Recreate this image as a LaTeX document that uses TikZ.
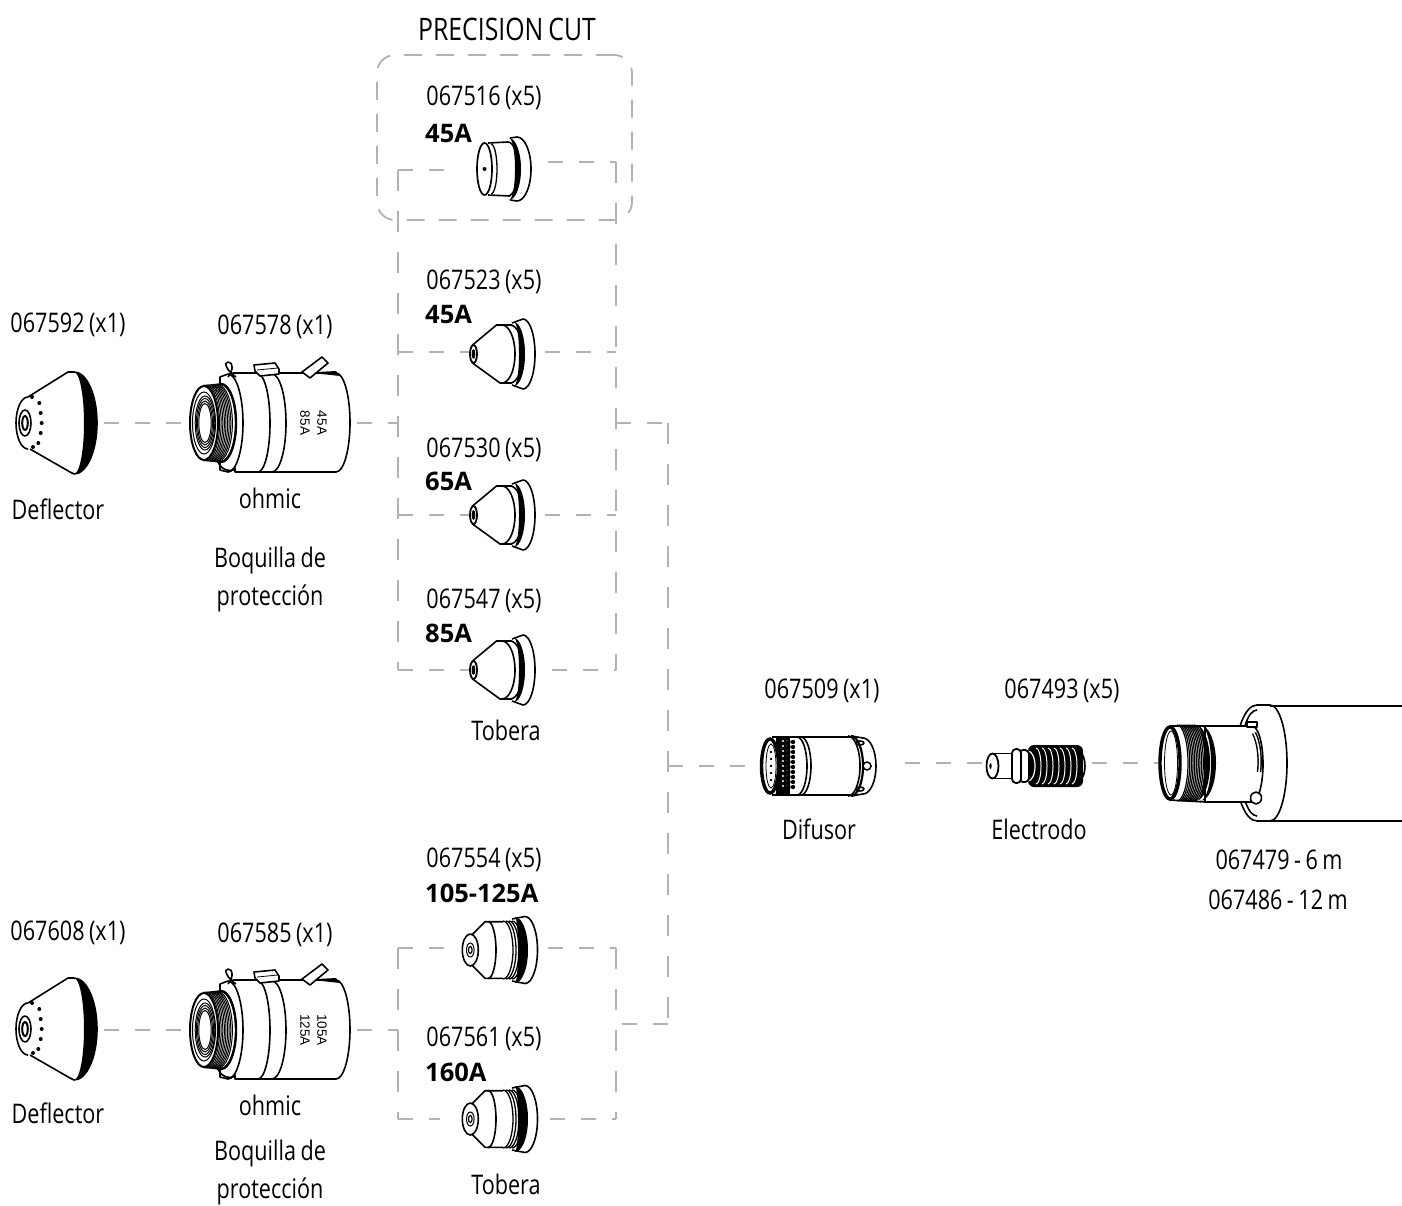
\documentclass[tikz,border=0pt]{standalone}
\usepackage{fontspec}
\setmainfont{Open Sans}
\newfontfamily\labelfont[FakeStretch=0.8,WordSpace=0.8]{Open Sans}
\newfontfamily\ampfont{Open Sans}
\newfontfamily\platefont{Liberation Sans}
\newcommand\bulge[3]{(#1,-#3) arc[start angle=-90,end angle=90,x radius=#2,y radius=#3]}
\newcommand\crescent[4]{\fill (#1,-#4) arc[start angle=-90,end angle=90,x radius=#3,y radius=#4]
  arc[start angle=90,end angle=-90,x radius=#2,y radius=#4];}

\tikzset{
  link/.style={draw=gray!60, line width=1.8pt, dash pattern=on 15pt off 16pt},
  trunk/.style={draw=gray!60, line width=1.8pt, dash pattern=on 21pt off 20pt},
  partline/.style={line width=1.6pt, line join=round},
  thinline/.style={line width=0.8pt},
  partlabel/.style={font=\labelfont\fontsize{27}{27}\selectfont, inner sep=0pt},
  amplabel/.style={font=\ampfont\bfseries\fontsize{25.5}{25.5}\selectfont, inner sep=0pt, anchor=west},
  platelabel/.style={font=\platefont\fontsize{13.5}{13.5}\selectfont, inner sep=0pt, rotate=-90},
  pics/deflector/.style={code={
    \draw[partline] (10,-26) arc[start angle=-90,end angle=-270,x radius=12,y radius=26];
    \draw[partline] (10,-26) -- (50,-51) -- (56,-51);
    \draw[partline] (12,26) -- (52,49) -- (56,51);
    \draw[partline] \bulge{56}{23}{51};
    \crescent{56}{10}{23}{51}
    \draw[partline] (7,0) ellipse [x radius=6, y radius=13];
    \draw[line width=2pt] (7,0) ellipse [x radius=2.8, y radius=7];
    \foreach \dx/\dy in {21.3/-20,22.7/-10,23.7/0,22.7/10,20.3/20,15/24,14/-26}
      \fill (\dx,\dy) circle [radius=2];
  }},
  pics/shield/.style 2 args={code={
    % body and bands
    \draw[partline,fill=white] (43,-50) -- (146,-50) arc[start angle=-90,end angle=90,x radius=14,y radius=49.5] -- (45,49) -- cycle;
    \draw[partline] \bulge{68}{12}{49};
    \draw[partline] \bulge{82}{14}{49};
    \fill (118,-50.5) -- (146,-52) -- (150,-47) -- cycle;
    % clip and arm
    \draw[partline,fill=white] (64,-58) -- (85,-60) -- (89,-54) -- (89,-49) -- (70,-47) -- (65,-52) -- cycle;
    \draw[thinline] (67,-53) -- (88,-55);
    \draw[partline,fill=white] (112,-51) -- (132,-66) -- (138,-60) -- (120,-45) -- cycle;
    % flange
    \draw[partline,fill=white] (30,-46) -- (38,-49) arc[start angle=-90,end angle=90,x radius=15,y radius=49] -- (30,47) -- cycle;
    \draw[partline] (46,-46) .. controls (37,-52) and (33,-61) .. (38,-61) .. controls (44,-61) and (43,-52) .. (38,-46);
    \draw[partline] (27,37) .. controls (30,45) and (37,50) .. (46,46);
    % thread
    \draw[partline,fill=white] (14,-37) -- (30,-39) arc[start angle=-90,end angle=90,x radius=16,y radius=39] -- (14,37) -- cycle;
    \foreach \tx in {14,15.6,...,30}
      \draw[line width=1pt] \bulge{\tx}{14}{38};
    \draw[line width=2.4pt] \bulge{31}{15}{39};
    % mouth
    \draw[line width=2pt,fill=white] (14,0) ellipse [x radius=14, y radius=37];
    \draw[line width=1pt] (14,0) ellipse [x radius=11.5, y radius=31];
    \foreach \rx/\ry in {9.8/27,8.6/24.5,7.4/22,6.2/19.5}
      \draw[line width=1pt] (15,0) ellipse [x radius=\rx, y radius=\ry];
    \node[platelabel] (plateA) at (132,0) {#1};
    \node[platelabel] (plateB) at (115,0) {#2};
  }},
  pics/conenozzle/.style={code={
    \draw[line width=1.8pt] (3.5,0) ellipse [x radius=3.5, y radius=9];
    \fill (3.5,0) ellipse [x radius=1.8, y radius=5];
    \draw[partline] (2.5,-9) -- (26.5,-29) -- (42,-29);
    \draw[partline] (2.5,9) -- (30,29) -- (42,29);
    \draw[partline] \bulge{32}{13}{29};
    \draw[partline] \bulge{40}{13}{29};
    \draw[partline] (42,-31) -- (53,-35);
    \draw[partline] (42,31) -- (53,35);
    \draw[partline] \bulge{53}{12}{35};
    \crescent{44}{5}{11}{32}
  }},
  pics/widenozzle/.style={code={
    \draw[partline] (8.3,0) ellipse [x radius=8, y radius=16];
    \draw[line width=1pt] (8.3,0) ellipse [x radius=3.8, y radius=7];
    \draw[line width=1.2pt] (8.3,0) ellipse [x radius=1.8, y radius=3.5];
    \draw[partline] (9.7,-15) -- (23,-28.3) -- (41,-28.3);
    \draw[partline] (9.7,15) -- (23,28.3) -- (41,28.3);
    \draw[partline] \bulge{26}{8}{28.5};
    \foreach \tx in {41,44,47,50}
      \draw[line width=1.3pt] \bulge{\tx}{10}{29};
    \draw[partline] (50,-31) -- (63,-33.5);
    \draw[partline] (50,31) -- (63,33.5);
    \draw[partline] \bulge{63}{12.5}{33.5};
    \crescent{53}{3}{13}{33}
  }},
}

\begin{document}
\begin{tikzpicture}[x=1pt, y=-1pt]
  \useasboundingbox (0,0) rectangle (1402,1206);
  % junctions of the dashed lines
  \coordinate (defoneout) at (104,423);
  \coordinate (shieldonein) at (187,423);
  \coordinate (shieldoneout) at (357,423);
  \coordinate (buslone) at (398,423);
  \coordinate (defmoreout) at (104,1030);
  \coordinate (shieldmorein) at (187,1030);
  \coordinate (shieldmoreout) at (357,1030);
  \coordinate (buslmore) at (398,1030);
  \coordinate (tipAw) at (458,170);
  \coordinate (tipAe) at (548,162);
  \coordinate (cornerAl) at (398,170);
  \coordinate (cornerAr) at (616,162);
  \coordinate (tipBw) at (470,352);
  \coordinate (tipBe) at (545,352);
  \coordinate (tapBl) at (398,352);
  \coordinate (tapBr) at (616,352);
  \coordinate (tipCw) at (470,515);
  \coordinate (tipCe) at (545,515);
  \coordinate (tapCl) at (398,515);
  \coordinate (tapCr) at (616,515);
  \coordinate (tipDw) at (470,670);
  \coordinate (tipDe) at (552,670);
  \coordinate (cornerDl) at (398,670);
  \coordinate (cornerDr) at (616,670);
  \coordinate (tipEw) at (445,948);
  \coordinate (tipEe) at (548,948);
  \coordinate (cornerEl) at (398,948);
  \coordinate (cornerEr) at (616,948);
  \coordinate (tipFw) at (440,1119);
  \coordinate (tipFe) at (550,1119);
  \coordinate (cornerFl) at (398,1119);
  \coordinate (cornerFr) at (616,1119);
  \coordinate (trunkA) at (616,423);
  \coordinate (trunkB) at (668,423);
  \coordinate (trunkC) at (668,1024);
  \coordinate (trunkD) at (616,1024);
  \coordinate (trunkmid) at (668,766);
  \coordinate (difin) at (745,766);
  \coordinate (difout) at (905,763);
  \coordinate (elecin) at (985,763);
  \coordinate (elecout) at (1092,763);
  \coordinate (torchin) at (1160,763);

  % dashed lines
  \draw[link] (defoneout) -- (shieldonein);
  \draw[link] (shieldoneout) -- (buslone);
  \draw[link] (cornerAl) -- (tipAw);
  \draw[trunk] (cornerAl) -- (cornerDl);
  \draw[link] (cornerDl) -- (tipDw);
  \draw[link] (tipAe) -- (cornerAr);
  \draw[trunk] (cornerAr) -- (cornerDr);
  \draw[link] (tipDe) -- (cornerDr);
  \draw[link] (tapBl) -- (tipBw);
  \draw[link] (tipBe) -- (tapBr);
  \draw[link] (tapCl) -- (tipCw);
  \draw[link] (tipCe) -- (tapCr);
  \draw[link] (trunkA) -- (trunkB);
  \draw[trunk] (trunkB) -- (trunkC);
  \draw[link] (trunkC) -- (trunkD);
  \draw[link] (trunkmid) -- (difin);
  \draw[link] (difout) -- (elecin);
  \draw[link] (elecout) -- (torchin);
  \draw[link] (defmoreout) -- (shieldmorein);
  \draw[link] (shieldmoreout) -- (buslmore);
  \draw[link] (cornerEl) -- (tipEw);
  \draw[trunk] (cornerEl) -- (cornerFl);
  \draw[link] (cornerFl) -- (tipFw);
  \draw[link] (tipEe) -- (cornerEr);
  \draw[trunk] (cornerEr) -- (cornerFr);
  \draw[link] (tipFe) -- (cornerFr);
  \node[link, dash pattern=on 18pt off 14pt, rounded corners=18pt, minimum width=255pt, minimum height=165pt, inner sep=0pt] (precbox) at (504.5,137.5) {};

  % consumables, first row
  \pic at (18,423) {deflector};
  \pic at (190,423) {shield={45A}{85A}};
  \pic at (470,354) {conenozzle};
  \pic at (470,515) {conenozzle};
  \pic at (470,670) {conenozzle};
  \pic at (18,1029) {deflector};
  \pic at (190,1030) {shield={105A}{125A}};
  \pic at (462,950) {widenozzle};
  \pic at (462,1119) {widenozzle};

  % precision nozzle
  \draw[line width=1.7pt] (484.5,169) ellipse [x radius=7.5, y radius=26];
  \fill (484.5,169) circle [radius=2];
  \draw[partline] (488,143) -- (508,142);
  \draw[partline] (488,195) -- (510,196);
  \begin{scope}[shift={(0,169)}]
    \draw[line width=1.3pt] (491,-25) arc[start angle=-90,end angle=90,x radius=6,y radius=25];
    \draw[partline] \bulge{508}{10}{27};
    \crescent{509}{6}{12}{31}
    \draw[partline] (510,-31) -- (517,-32);
    \draw[partline] (510,31) -- (517,32);
    \draw[partline] \bulge{517}{14}{32};
  \end{scope}

  % difusor
  \begin{scope}[shift={(0,766)}]
    \draw[partline] (772,-29) -- (855,-29);
    \draw[partline] (772,29) -- (855,29);
    \fill (776,-29) -- (790,-29) -- (790,29) -- (776,29) -- cycle;
    \foreach \dy in {-24,-19,...,25}
      \foreach \dx in {784,788.5,793}
        \fill[white] (\dx-1,\dy-1) circle [radius=1.2];
    \foreach \dy in {-24,-19,...,25}
      \foreach \dx in {788.5,793}
        \fill (\dx,\dy) circle [radius=2.2];
    \draw[partline] \bulge{797}{10}{29};
    \draw[partline] \bulge{801}{10}{29};
    \draw[partline] \bulge{848}{12}{30};
    \draw[line width=2.2pt] \bulge{851}{12}{30};
    \draw[partline] (851,-30) -- (863,-28);
    \draw[partline] (851,30) -- (863,28);
    \draw[partline] \bulge{863}{13}{28};
    \draw[line width=3.4pt,fill=white] (770,0) ellipse [x radius=8.5, y radius=27];
    \draw[thinline] (771,0) ellipse [x radius=5, y radius=22];
    \foreach \dy in {-14,-7,0,7,14}
      \fill (771,\dy) circle [radius=1.4];
    \draw[partline,fill=white] (867,0) circle [radius=4];
    \draw[partline] (860,-23) ellipse [x radius=4, y radius=2];
    \draw[partline] (860,23) ellipse [x radius=4, y radius=2];
  \end{scope}

  % electrodo
  \begin{scope}[shift={(0,766)}]
    \draw[partline] (1080,-13) arc[start angle=-90,end angle=90,x radius=5,y radius=13];
    \fill[rounded corners=6pt] (1028,-21) rectangle (1083,21);
    \foreach \tx in {1036,1042,...,1074}
      \draw[white, line width=1pt] (\tx,-18) arc[start angle=-90,end angle=90,x radius=5,y radius=18];
    \draw[white, line width=1.2pt] (1028,-15) arc[start angle=-90,end angle=90,x radius=7,y radius=15];
    \draw[partline,fill=white] (993,-12.5) -- (1013,-12.5) -- (1013,12.5) -- (993,12.5) -- cycle;
    \draw[line width=1.8pt,fill=white,rounded corners=4pt] (1019,-16) rectangle (1029,16);
    \draw[line width=1.8pt,fill=white,rounded corners=4pt] (1012,-17) rectangle (1021,17);
    \draw[line width=1.8pt,fill=white] (992.5,0) ellipse [x radius=6, y radius=12.5];
    \fill (990.5,0) ellipse [x radius=1.2, y radius=3];
  \end{scope}

  % torch end
  \begin{scope}[shift={(0,763)}]
    \draw[line width=2pt] (1270,-57.5) -- (1402,-57.5);
    \draw[line width=2pt] (1268,58) -- (1402,58);
    \draw[partline] \bulge{1270}{17}{58};
    \draw[partline] (1270,-58) -- (1257,-58) arc[start angle=-90,end angle=-270,x radius=22,y radius=58] -- (1268,58);
    \draw[partline] (1257,-53) arc[start angle=-90,end angle=-270,x radius=17,y radius=53];
    % body
    \draw[partline,fill=white] (1205,-37) -- (1252,-37) arc[start angle=-90,end angle=90,x radius=11,y radius=38] -- (1205,39) -- cycle;
    % slots
    \draw[line width=4.5pt] (1254,-30) .. controls (1258,-22) and (1261,-8) .. (1259,9);
    \draw[white, line width=1.6pt] (1254,-30) .. controls (1258,-22) and (1261,-8) .. (1259,9);
    \draw[partline,fill=white] (1247,-41) rectangle (1257,-36);
    \draw[partline,fill=white] (1256,35) ellipse [x radius=5.5, y radius=6];
    % thread
    \draw[partline,fill=white] (1170,-37) -- (1205,-37) -- (1205,39) -- (1170,37) -- cycle;
    \foreach \tx in {1177,1178.7,...,1195}
      \draw[line width=1.2pt] \bulge{\tx}{11}{38};
    \crescent{1196}{9}{14}{38}
    \crescent{1200}{11}{16}{38}
    \draw[line width=3.4pt,fill=white] (1170,0) ellipse [x radius=10, y radius=36];
    \draw[thinline] (1171,0) ellipse [x radius=6.5, y radius=32];
  \end{scope}

  % labels
  \node[partlabel, font=\labelfont\fontsize{31}{31}\selectfont] (title) at (507,29) {PRECISION CUT};
  \node[partlabel] (refA) at (484,98) {067516 (x5)};
  \node[amplabel] (ampA) at (425,133) {45A};
  \node[partlabel] (refB) at (484,282) {067523 (x5)};
  \node[amplabel] (ampB) at (425,314) {45A};
  \node[partlabel] (refC) at (484,450) {067530 (x5)};
  \node[amplabel] (ampC) at (425,481) {65A};
  \node[partlabel] (refD) at (484,601) {067547 (x5)};
  \node[amplabel] (ampD) at (425,633) {85A};
  \node[partlabel] (toberaone) at (506,730) {Tobera};
  \node[partlabel] (defrefone) at (68,325) {067592 (x1)};
  \node[partlabel] (defnameone) at (58,509) {Deflector};
  \node[partlabel] (shieldrefone) at (275,327) {067578 (x1)};
  \node[partlabel] (ohmicone) at (270,498) {ohmic};
  \node[partlabel] (boqone) at (270,560) {Boquilla de};
  \node[partlabel] (protone) at (270,598) {protección};
  \node[partlabel] (refE) at (484,860) {067554 (x5)};
  \node[amplabel] (ampE) at (425,893) {105-125A};
  \node[partlabel] (refF) at (484,1039) {067561 (x5)};
  \node[amplabel] (ampF) at (425,1072) {160A};
  \node[partlabel] (toberamore) at (506,1184) {Tobera};
  \node[partlabel] (defrefmore) at (68,933) {067608 (x1)};
  \node[partlabel] (defnamemore) at (58,1113) {Deflector};
  \node[partlabel] (shieldrefmore) at (275,935) {067585 (x1)};
  \node[partlabel] (ohmicmore) at (270,1105) {ohmic};
  \node[partlabel] (boqmore) at (270,1153) {Boquilla de};
  \node[partlabel] (protmore) at (270,1191) {protección};
  \node[partlabel] (difref) at (822,691) {067509 (x1)};
  \node[partlabel] (difname) at (819,829) {Difusor};
  \node[partlabel] (elecref) at (1062,691) {067493 (x5)};
  \node[partlabel] (elecname) at (1039,829) {Electrodo};
  \node[partlabel] (torchsix) at (1279,860) {067479 - 6 m};
  \node[partlabel] (torchtwelve) at (1278,900) {067486 - 12 m};
\end{tikzpicture}
\end{document}
